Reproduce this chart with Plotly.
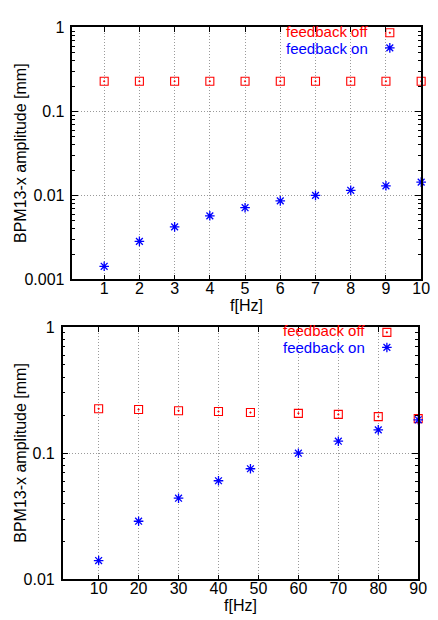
import plotly.graph_objects as go

# ---- data -------------------------------------------------------------
freq_low = [1, 2, 3, 4, 5, 6, 7, 8, 9, 10]
off_low = [0.229, 0.229, 0.229, 0.229, 0.229, 0.229, 0.229, 0.229, 0.229, 0.229]
on_low = [0.00143, 0.00283, 0.00422, 0.00571, 0.00713, 0.0086, 0.0100, 0.0115, 0.0130, 0.0144]

freq_high = [10, 20, 30, 40, 48, 60, 70, 80, 90]
off_high = [0.225, 0.222, 0.217, 0.214, 0.210, 0.207, 0.203, 0.195, 0.188]
on_high = [0.0141, 0.0289, 0.0440, 0.0605, 0.0753, 0.100, 0.1245, 0.153, 0.184]

xticks_low = [1, 2, 3, 4, 5, 6, 7, 8, 9, 10]
xticks_high = [10, 20, 30, 40, 50, 60, 70, 80, 90]
yticks_low = [0.001, 0.01, 0.1, 1]
yticks_high = [0.01, 0.1, 1]

# ---- styling ----------------------------------------------------------
W, H = 438, 620
FONT = "Liberation Sans, Arial, sans-serif"
RED = "#ff0000"
BLUE = "#0000ff"
GRID = "#9a9a9a"
GRID_DASH = "1px,2px"


def minor_vals(lo_exp, hi_exp):
    vals = []
    for e in range(lo_exp, hi_exp):
        for k in range(2, 10):
            vals.append(k * 10 ** e)
    return vals


def px_dom_x(a, b):
    return [a / W, b / W]


def px_dom_y(top, bottom):
    return [1 - bottom / H, 1 - top / H]


def off_marker():
    return dict(symbol="square-open-dot", size=8, color=RED,
                line=dict(width=1.1, color=RED))


def on_marker():
    return dict(symbol="asterisk-open", size=8, color=BLUE,
                line=dict(width=1.3, color=BLUE))


panels = [
    dict(x=freq_low, off=off_low, on=on_low, xt=xticks_low, yt=yticks_low,
         xr=[0.1, 10], yexp=(-3, 0), left=74, right=430, top=20, bottom=279),
    dict(x=freq_high, off=off_high, on=on_high, xt=xticks_high, yt=yticks_high,
         xr=[1, 90], yexp=(-2, 0), left=64, right=427, top=328, bottom=587.5),
]

fig = go.Figure()
layout = dict(
    width=W, height=H,
    margin=dict(l=0, r=0, t=0, b=0),
    paper_bgcolor="white", plot_bgcolor="white",
    showlegend=False,
    font=dict(family=FONT, size=16, color="black"),
    annotations=[],
)

for i, p in enumerate(panels):
    n = i + 1
    xa = "x" if n == 1 else f"x{n}"
    ya = "y" if n == 1 else f"y{n}"
    xkey = "xaxis" if n == 1 else f"xaxis{n}"
    ykey = "yaxis" if n == 1 else f"yaxis{n}"

    fig.add_trace(go.Scatter(
        x=p["x"], y=p["off"], mode="markers", name="feedback off",
        marker=off_marker(), xaxis=xa, yaxis=ya, cliponaxis=False))
    fig.add_trace(go.Scatter(
        x=p["x"], y=p["on"], mode="markers", name="feedback on",
        marker=on_marker(), xaxis=xa, yaxis=ya, cliponaxis=False))

    lo, hi = p["yexp"]
    layout[xkey] = dict(
        domain=px_dom_x(p["left"], p["right"]), anchor=ya,
        range=p["xr"], tickvals=p["xt"], ticktext=[str(v) for v in p["xt"]],
        ticks="inside", ticklen=5, tickwidth=1, tickcolor="black",
        showline=True, linecolor="black", linewidth=1.5, mirror="allticks",
        showgrid=True, gridcolor=GRID, griddash=GRID_DASH, gridwidth=1,
        zeroline=False, ticklabelstandoff=-6,
        tickfont=dict(family=FONT, size=16, color="black"),
    )
    layout[ykey] = dict(
        domain=px_dom_y(p["top"], p["bottom"]), anchor=xa,
        type="log", range=[lo, hi],
        tickvals=p["yt"], ticktext=[f"{v:g}" for v in p["yt"]],
        ticks="inside", ticklen=6, tickwidth=1, tickcolor="black",
        minor=dict(tickvals=minor_vals(lo, hi), ticks="inside", ticklen=3,
                   tickcolor="black", tickwidth=1, showgrid=False),
        showline=True, linecolor="black", linewidth=1.5, mirror="allticks",
        showgrid=True, gridcolor=GRID, griddash=GRID_DASH, gridwidth=1,
        zeroline=False, ticklabelstandoff=3,
        tickfont=dict(family=FONT, size=16, color="black"),
    )

    # axis titles
    cx = (p["left"] + p["right"]) / 2 / W
    cy = 1 - (p["top"] + p["bottom"]) / 2 / H
    layout["annotations"].append(dict(
        text="f[Hz]", xref="paper", yref="paper", showarrow=False,
        x=cx, y=1 - (p["bottom"] + 27) / H, xanchor="center", yanchor="middle",
        font=dict(family=FONT, size=16, color="black")))
    layout["annotations"].append(dict(
        text="BPM13-x amplitude [mm]", xref="paper", yref="paper",
        showarrow=False, textangle=-90,
        x=21 / W, y=cy, xanchor="center", yanchor="middle",
        font=dict(family=FONT, size=16, color="black")))

    # key: text right-aligned, sample symbol to its right
    key_rows = [("feedback off", RED, 4.0), ("feedback on", BLUE, 21.5)]
    for label, col, dy in key_rows:
        layout["annotations"].append(dict(
            text=label, xref="paper", yref="paper", showarrow=False,
            x=(p["right"] - 53) / W, y=1 - (p["top"] + dy) / H,
            xanchor="right", yanchor="middle", borderpad=0,
            font=dict(family=FONT, size=15, color=col)))

    # key samples drawn on an overlay axis pair sharing the panel (0..1 fractions)
    kx = f"x{n + 2}"
    ky = f"y{n + 2}"
    layout[f"xaxis{n + 2}"] = dict(overlaying=xa, range=[0, 1], visible=False,
                                   anchor=ky, fixedrange=True)
    layout[f"yaxis{n + 2}"] = dict(overlaying=ya, range=[0, 1], visible=False,
                                   anchor=kx, fixedrange=True)
    span_w = p["right"] - p["left"]
    span_h = p["bottom"] - p["top"]
    kxf = 1 - 32 / span_w
    fig.add_trace(go.Scatter(
        x=[kxf], y=[1 - 5.5 / span_h], mode="markers", marker=off_marker(),
        xaxis=kx, yaxis=ky, cliponaxis=False, hoverinfo="skip"))
    fig.add_trace(go.Scatter(
        x=[kxf], y=[1 - 21.0 / span_h], mode="markers", marker=on_marker(),
        xaxis=kx, yaxis=ky, cliponaxis=False, hoverinfo="skip"))

fig.update_layout(**layout)
fig.write_html("out.html")
